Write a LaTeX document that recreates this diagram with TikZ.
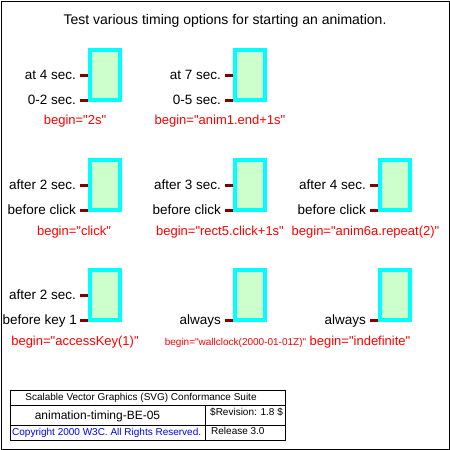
\documentclass[tikz,border=0pt]{standalone}
\usepackage{fontspec}
\setmainfont{Liberation Sans}[Ligatures=TeXOff]
\definecolor{tickred}{HTML}{800000}
\definecolor{boxgreen}{HTML}{CCFFCC}
\definecolor{boxcyan}{HTML}{00FFFF}
\tikzset{
  anim/.style={draw=boxcyan, line width=4.5pt, fill=boxgreen, minimum width=30pt,
    minimum height=50pt, inner sep=0pt},
  tick/.style={draw=tickred, line width=3pt},
  lbl/.style={font=\fontsize{13.5}{16}\selectfont, inner sep=0pt, anchor=base east},
  beg/.style={font=\fontsize{13}{16}\selectfont, text=red, inner sep=0pt, anchor=base},
  foot/.style={font=\fontsize{10}{12}\selectfont, inner sep=0pt, anchor=base},
}
\begin{document}
\begin{tikzpicture}[x=1pt,y=-1pt]
\useasboundingbox (0,0) rectangle (450,450);
\draw [line width=1pt] (1,1) rectangle (449,449);
\node (title) [font=\fontsize{14}{16}\selectfont, anchor=base, inner sep=0pt] at (225,24)
	{Test various timing options for starting an animation.};
% first row
\node (anim1) [anim] at (105,75) {};
\node (anim2) [anim] at (250,75) {};
\draw [tick] (anim1.west) -- ++(-8,0);
\draw [tick] ([yshift=-25pt]anim1.west) -- ++(-8,0);
\draw [tick] (anim2.west) -- ++(-8,0);
\draw [tick] ([yshift=-25pt]anim2.west) -- ++(-8,0);
\node (t1a) [lbl] at (76,79.5) {at 4 sec.};
\node (t1b) [lbl] at (76,104.5) {0-2 sec.};
\node (t2a) [lbl] at (221,79.5) {at 7 sec.};
\node (t2b) [lbl] at (221,104.5) {0-5 sec.};
\node (b1) [beg] at (75,124) {begin="2s"};
\node (b2) [beg] at (220,124) {begin="anim1.end+1s"};
% second row
\node (anim4) [anim] at (105,185) {};
\node (anim5) [anim] at (250,185) {};
\node (anim6) [anim] at (395,185) {};
\draw [tick] (anim4.west) -- ++(-8,0);
\draw [tick] ([yshift=-25pt]anim4.west) -- ++(-8,0);
\draw [tick] (anim5.west) -- ++(-8,0);
\draw [tick] ([yshift=-25pt]anim5.west) -- ++(-8,0);
\draw [tick] (anim6.west) -- ++(-8,0);
\draw [tick] ([yshift=-25pt]anim6.west) -- ++(-8,0);
\node (t4a) [lbl] at (76,189.5) {after 2 sec.};
\node (t4b) [lbl] at (76,214.5) {before click};
\node (t5a) [lbl] at (221,189.5) {after 3 sec.};
\node (t5b) [lbl] at (221,214.5) {before click};
\node (t6a) [lbl] at (366,189.5) {after 4 sec.};
\node (t6b) [lbl] at (366,214.5) {before click};
\node (b4) [beg] at (74,235) {begin="click"};
\node (b5) [beg] at (220,235) {begin="rect5.click+1s"};
\node (b6) [beg] at (365.5,235) {begin="anim6a.repeat(2)"};
% third row
\node (anim7) [anim] at (105,295) {};
\node (anim8) [anim] at (250,295) {};
\node (anim9) [anim] at (395,295) {};
\draw [tick] (anim7.west) -- ++(-8,0);
\draw [tick] ([yshift=-25pt]anim7.west) -- ++(-8,0);
\draw [tick] ([yshift=-25pt]anim8.west) -- ++(-8,0);
\draw [tick] ([yshift=-25pt]anim9.west) -- ++(-8,0);
\node (t7a) [lbl] at (76,299.5) {after 2 sec.};
\node (t7b) [lbl] at (77,324.5) {before key 1};
\node (t8b) [lbl] at (221,324.5) {always};
\node (t9b) [lbl] at (366,324.5) {always};
\node (b7) [beg] at (75,345) {begin="accessKey(1)"};
\node (b8) [beg, font=\fontsize{10}{12}\selectfont] at (235.5,345) {begin="wallclock(2000-01-01Z)"};
\node (b9) [beg] at (360,345) {begin="indefinite"};
% legend
\draw (10,390) rectangle (285,440);
\draw (10,405) -- (285,405);
\draw (10,425) -- (285,425);
\draw (205,405) -- (205,440);
\node (suite) [foot] at (141,400) {Scalable Vector Graphics (SVG) Conformance Suite};
\node (name) [foot, font=\fontsize{12}{14}\selectfont] at (97.5,419) {animation-timing-BE-05};
\node (rev) [foot, anchor=base west] at (210,415) {\$Revision: 1.8 \$};
\node (rel) [foot, anchor=base west] at (211,434) {Release 3.0};
\node (copy) [foot, anchor=base west, text=blue] at (12,435) {Copyright 2000 W3C. All Rights Reserved.};
\end{tikzpicture}
\end{document}
